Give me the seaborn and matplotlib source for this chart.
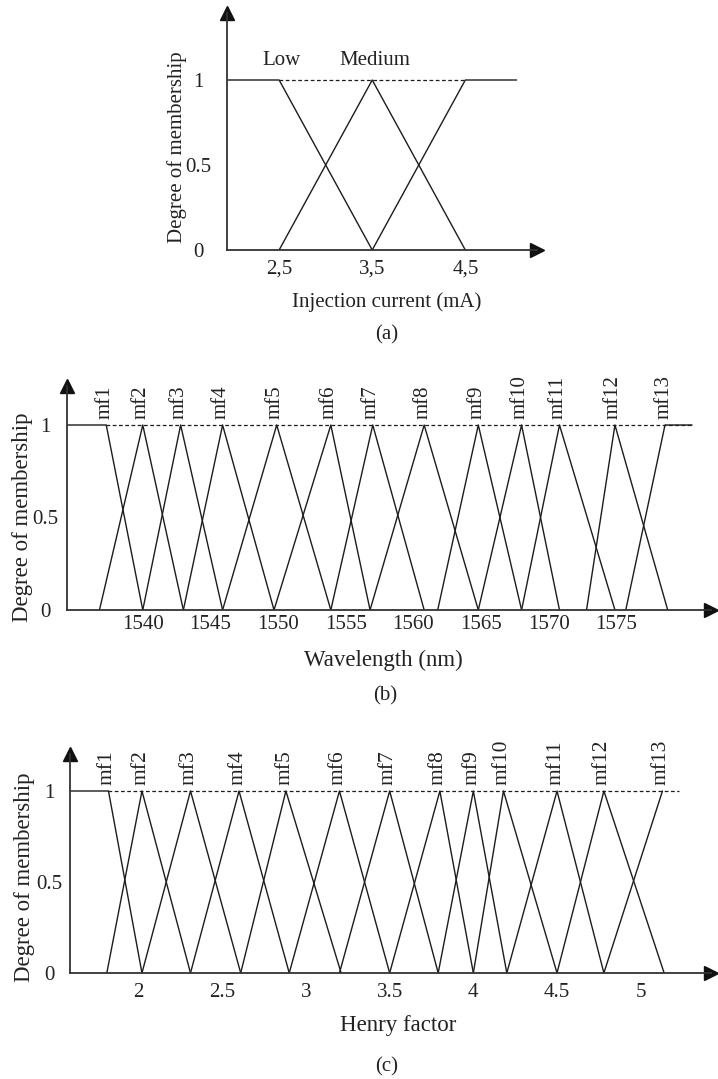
import matplotlib
matplotlib.use("Agg")
import matplotlib.pyplot as plt
import numpy as np
import pandas as pd
import seaborn as sns

# ---------------- data ----------------
inj_names = ["Low", "Medium", "High"]
inj_left = [1.94, 2.5, 3.5]
inj_peak = [2.5, 3.5, 4.5]
inj_right = [3.5, 4.5, 5.05]
inj_labelled = ["Low", "Medium"]
inj_ticks = [2.5, 3.5, 4.5]
inj_ticklabels = ["2,5", "3,5", "4,5"]
inj_xlim = [1.94, 5.27]
inj_dash_end = 4.5

mf_names = [f"mf{i}" for i in range(1, 14)]

wl_left = [1534.4, 1536.8, 1540.0, 1543.0, 1545.9, 1549.7, 1553.9,
           1556.8, 1561.8, 1564.8, 1568.0, 1572.8, 1575.7]
wl_peak = [1537.3, 1540.0, 1542.8, 1545.9, 1549.9, 1553.9, 1557.0,
           1560.8, 1564.8, 1568.0, 1570.8, 1574.9, 1578.6]
wl_right = [1540.0, 1543.0, 1545.9, 1549.7, 1553.9, 1556.8, 1560.8,
            1564.8, 1568.0, 1570.8, 1574.9, 1578.8, 1580.6]
wl_ticks = [1540, 1545, 1550, 1555, 1560, 1565, 1570, 1575]
wl_ticklabels = ["1540", "1545", "1550", "1555", "1560", "1565", "1570", "1575"]
wl_xlim = [1534.4, 1582.0]
wl_dash_end = 1580.6

hf_left = [1.59, 1.81, 2.02, 2.31, 2.61, 2.90, 3.20,
           3.50, 3.79, 4.00, 4.20, 4.50, 4.78]
hf_peak = [1.82, 2.02, 2.31, 2.60, 2.88, 3.20, 3.50,
           3.80, 4.00, 4.18, 4.50, 4.78, 5.13]
hf_right = [2.02, 2.31, 2.61, 2.90, 3.21, 3.50, 3.79,
            4.00, 4.20, 4.50, 4.78, 5.14, 5.13]
hf_ticks = [2, 2.5, 3, 3.5, 4, 4.5, 5]
hf_ticklabels = ["2", "2.5", "3", "3.5", "4", "4.5", "5"]
hf_xlim = [1.59, 5.42]
hf_dash_end = 5.23

mu_ticks = [0, 0.5, 1]
mu_ticklabels = ["0", "0.5", "1"]

# ---------------- style ----------------
sns.set_theme(style="white")
plt.rcParams["font.family"] = ["Liberation Serif", "DejaVu Serif"]
LINE = "#1c1c1c"
AXC = "#333333"
TXT = "#222222"

W, H = 718, 1079
fig = plt.figure(figsize=(W / 100, H / 100), dpi=100)


def px_axes(left, top, right, bottom):
    return fig.add_axes([left / W, 1 - bottom / H, (right - left) / W, (bottom - top) / H])


def build(names, left, peak, right):
    rows = []
    n = len(names)
    for i, nm in enumerate(names):
        mu_l = 1.0 if i == 0 else 0.0
        mu_r = 1.0 if i == n - 1 else 0.0
        for order, (x, m) in enumerate([(left[i], mu_l), (peak[i], 1.0), (right[i], mu_r)]):
            rows.append(dict(mf=nm, order=order, x=x, mu=m))
    return pd.DataFrame(rows)


def panel(ax, df, peaks, dash_end, xlim, ylim_top, ticks, ticklabels,
          xlabel, ylabel, xlab_px, ylab_px, ypad, xpad, tick_fs, lab_fs):
    sns.lineplot(data=df, x="x", y="mu", units="mf", estimator=None, sort=False,
                 color=LINE, lw=1.0, ax=ax, legend=False)
    ax.plot([peaks[0], dash_end], [1, 1], color=LINE, lw=0.9, ls=(0, (3, 2)))
    ax.set_xlim(*xlim)
    ax.set_ylim(0, ylim_top)
    for s in ["top", "right"]:
        ax.spines[s].set_visible(False)
    for s in ["left", "bottom"]:
        ax.spines[s].set_color(AXC)
        ax.spines[s].set_linewidth(1.3)
    ax.plot(1, 0, marker=">", ms=10, color="#111111", transform=ax.transAxes, clip_on=False)
    ax.plot(0, 1, marker="^", ms=10, color="#111111", transform=ax.transAxes, clip_on=False)
    ax.set_xticks(ticks)
    ax.set_xticklabels(ticklabels, fontsize=tick_fs, color=TXT)
    ax.set_yticks(mu_ticks)
    ax.set_yticklabels(mu_ticklabels, fontsize=tick_fs, color=TXT)
    for lab in ax.get_yticklabels():
        lab.set_ha("center")
    ax.tick_params(axis="y", length=0, pad=ypad)
    ax.tick_params(axis="x", length=0, pad=xpad)
    ax.set_xlabel(xlabel, fontsize=lab_fs, color=TXT)
    ax.set_ylabel(ylabel, fontsize=lab_fs + (0 if lab_fs >= 16 else 0), color=TXT)
    ax.xaxis.set_label_coords(xlab_px[0] / W, 1 - xlab_px[1] / H, transform=fig.transFigure)
    ax.xaxis.label.set_va("center")
    ax.yaxis.set_label_coords(ylab_px[0] / W, 1 - ylab_px[1] / H, transform=fig.transFigure)
    ax.yaxis.label.set_va("center")
    ax.set_facecolor("none")


# ---------------- panel (a) ----------------
ax_a = px_axes(227, 13, 537, 250)
df_a = build(inj_names, inj_left, inj_peak, inj_right)
panel(ax_a, df_a, inj_peak, inj_dash_end, inj_xlim, 237 / 170, inj_ticks, inj_ticklabels,
      "Injection current (mA)", "Degree of membership", (387, 302), (177, 147),
      20.9, 7.2, 15, 15)
for nm, pk in zip(inj_names, inj_peak):
    if nm in inj_labelled:
        ax_a.annotate(nm, xy=(pk, 1), xytext=(2, 14), textcoords="offset points",
                      ha="center", va="center", fontsize=15, color=TXT)
fig.text(387 / W, 1 - 335 / H, "(a)", ha="center", va="center", fontsize=15, color=TXT)

# ---------------- panel (b) ----------------
ax_b = px_axes(67, 386, 711, 610)
df_b = build(mf_names, wl_left, wl_peak, wl_right)
panel(ax_b, df_b, wl_peak, wl_dash_end, wl_xlim, 224 / 185, wl_ticks, wl_ticklabels,
      "Wavelength (nm)", "Degree of membership", (383, 660), (22.5, 517),
      15.8, 3.6, 15, 16.5)
for nm, pk in zip(mf_names, wl_peak):
    ax_b.annotate(nm, xy=(pk, 1), xytext=(-1, 4), textcoords="offset points",
                  rotation=90, ha="center", va="bottom", fontsize=15, color=TXT)
fig.text(385 / W, 1 - 696 / H, "(b)", ha="center", va="center", fontsize=15, color=TXT)

# ---------------- panel (c) ----------------
ax_c = px_axes(70, 754, 711, 973)
df_c = build(mf_names, hf_left, hf_peak, hf_right)
panel(ax_c, df_c, hf_peak, hf_dash_end, hf_xlim, 219 / 182, hf_ticks, hf_ticklabels,
      "Henry factor", "Degree of membership", (398, 1025), (25, 877),
      15.0, 7.2, 15, 16.5)
for nm, pk in zip(mf_names, hf_peak):
    ax_c.annotate(nm, xy=(pk, 1), xytext=(-1, 4), textcoords="offset points",
                  rotation=90, ha="center", va="bottom", fontsize=15.5, color=TXT)
fig.text(387 / W, 1 - 1067 / H, "(c)", ha="center", va="center", fontsize=15, color=TXT)

fig.savefig("out.png", dpi=100, facecolor="white")
